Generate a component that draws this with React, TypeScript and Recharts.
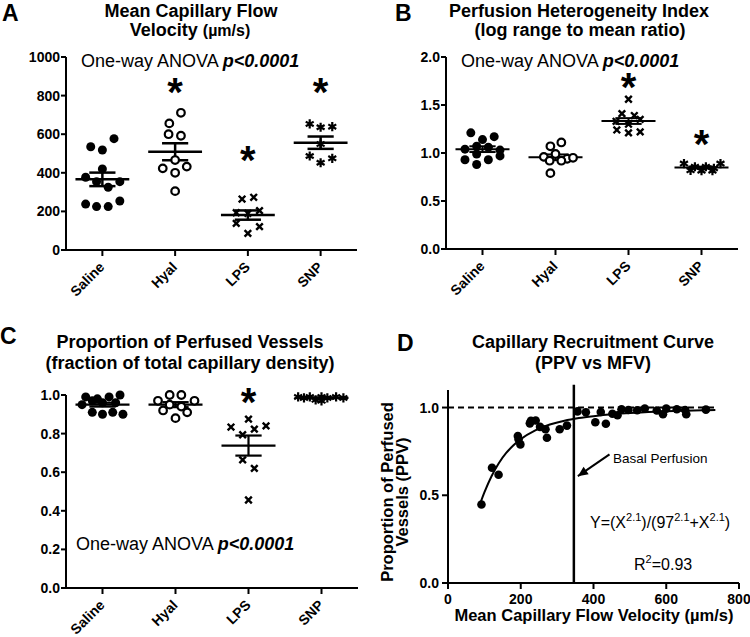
import React from "react";
import { ScatterChart, Scatter, XAxis, YAxis, ReferenceLine } from "recharts";

const FONT = "'Liberation Sans', Arial, Helvetica, sans-serif";

const categories = ["Saline", "Hyal", "LPS", "SNP"];
const catTicks = [0.5, 1.5, 2.5, 3.5];

// Panel A: Mean capillary flow velocity (µm/s)
const mfvTicks = [0, 200, 400, 600, 800, 1000];
const mfvSaline = [535, 518, 577, 377, 420, 354, 325, 354, 238, 225, 225, 254];
const mfvSalineJitter = [-0.16, 0, 0.16, -0.23, 0, -0.08, 0.08, 0.24, -0.23, -0.08, 0.08, 0.24];
const mfvHyal = [711, 656, 600, 592, 466, 423, 432, 400, 305];
const mfvHyalJitter = [0.08, -0.08, -0.09, 0.08, 0, -0.17, 0.16, 0, 0];
const mfvLps = [264, 273, 193, 190, 204, 138, 121, 86];
const mfvLpsJitter = [-0.08, 0.08, -0.16, 0, 0.16, -0.16, 0.16, 0];
const mfvSnp = [653, 636, 639, 549, 487, 452, 475];
const mfvSnpJitter = [-0.15, 0, 0.16, 0, -0.15, 0, 0.16];
const mfvMean = [366, 509, 181, 556];
const mfvSem = [35, 44, 24, 32];
const mfvSig = [null, 855, 503, 855];

// Panel B: Perfusion heterogeneity index
const phiTicks = [0, 0.5, 1.0, 1.5, 2.0];
const phiSaline = [1.21, 1.14, 1.17, 1.04, 1.07, 1.06, 1.03, 0.97, 0.93, 0.88, 0.93, 0.99];
const phiSalineJitter = [-0.16, 0, 0.16, -0.24, -0.08, 0.08, 0.24, 0.24, -0.24, -0.08, 0.08, -0.08];
const phiHyal = [1.07, 1.11, 0.96, 0.99, 0.94, 0.92, 0.92, 0.95, 0.79];
const phiHyalJitter = [-0.07, 0.08, -0.16, 0, 0.16, -0.08, 0.08, 0.24, -0.07];
const phiLps = [1.56, 1.41, 1.39, 1.33, 1.35, 1.24, 1.21, 1.22, 1.3];
const phiLpsJitter = [0, -0.09, 0.08, -0.17, 0.16, -0.16, 0, 0.16, 0];
const phiSnp = [0.89, 0.857, 0.857, 0.84, 0.89, 0.82, 0.815, 0.815];
const phiSnpJitter = [-0.24, -0.09, 0.06, 0.17, 0.26, -0.15, 0, 0.15];
const phiMean = [1.04, 0.955, 1.333, 0.848];
const phiSem = [0.03, 0.03, 0.03, 0.01];
const phiSig = [null, null, 1.76, 1.17];

// Panel C: Proportion of perfused vessels
const ppvTicks = [0, 0.2, 0.4, 0.6, 0.8, 1.0];
const ppvSaline = [0.99, 0.98, 0.99, 1.0, 0.97, 0.96, 0.96, 0.91, 0.9, 0.91, 0.95, 0.9];
const ppvSalineJitter = [-0.23, -0.07, 0.09, 0.24, -0.14, 0, 0.18, -0.14, 0, 0.14, -0.28, 0.28];
const ppvHyal = [0.97, 1.0, 1.0, 0.97, 0.92, 0.91, 0.88, 0.95, 0.94];
const ppvHyalJitter = [-0.24, -0.08, 0.08, 0.26, -0.17, 0.16, 0, -0.08, 0.08];
const ppvLps = [0.875, 0.834, 0.823, 0.84, 0.794, 0.664, 0.62, 0.456];
const ppvLpsJitter = [0, -0.24, 0.08, 0.24, -0.08, -0.08, 0.08, 0];
const ppvSnp = [0.99, 0.985, 0.99, 0.975, 0.99, 0.985, 0.97, 0.99, 0.985];
const ppvSnpJitter = [-0.32, -0.24, -0.16, -0.08, 0.0, 0.08, 0.0, 0.2, 0.3];
const ppvMean = [0.95, 0.95, 0.738, 0.985];
const ppvSem = [0.01, 0.013, 0.052, 0.003];
const ppvSig = [null, null, 1.0, null];

// Panel D: recruitment curve (PPV vs MFV)
const recMfv = [92, 121, 139, 192, 194, 199, 225, 228, 241, 253, 268, 272, 307, 327, 356, 379, 405, 420, 434, 452, 466, 477, 496, 520, 541, 574, 591, 600, 629, 652, 655, 709];
const recPpv = [0.447, 0.657, 0.617, 0.838, 0.82, 0.79, 0.91, 0.924, 0.926, 0.89, 0.876, 0.828, 0.876, 0.897, 0.978, 0.973, 0.916, 0.975, 0.908, 0.965, 0.956, 0.99, 0.986, 0.985, 0.994, 0.983, 0.962, 0.994, 0.99, 0.986, 0.962, 0.988];
const fitMfv = [90, 100, 120, 140, 160, 180, 200, 240, 280, 320, 360, 400, 450, 500, 550, 600, 650, 700, 735];
const fitPpv = [0.461, 0.516, 0.61, 0.684, 0.741, 0.785, 0.82, 0.87, 0.903, 0.925, 0.94, 0.951, 0.962, 0.969, 0.975, 0.979, 0.982, 0.984, 0.986];
const recXTicks = [0, 200, 400, 600, 800];
const recYTicks = [0, 0.5, 1.0];
const basalMfv = 346;
const arrowFrom = { x: 444, y: 0.733 };
const arrowTo = { x: 357, y: 0.609 };

type Pt = { x: number; y: number };
const toPoints = (group: number, values: number[], jitter: number[]): Pt[] =>
  values.map((v, i) => ({ x: group + 0.5 + jitter[i], y: v }));
const sigPoints = (sig: (number | null)[]): Pt[] =>
  sig.flatMap((v, i) => (v == null ? [] : [{ x: i + 0.5, y: v }]));

const FilledCircle = (p: any) => <circle cx={p.cx} cy={p.cy} r={4.5} fill="#000" />;
const OpenCircle = (p: any) => (
  <circle cx={p.cx} cy={p.cy} r={3.8} fill="#fff" stroke="#000" strokeWidth={2.2} />
);
const CrossMark = (p: any) => {
  const r = 3.3;
  return (
    <path
      d={`M${p.cx - r},${p.cy - r}L${p.cx + r},${p.cy + r}M${p.cx + r},${p.cy - r}L${p.cx - r},${p.cy + r}`}
      stroke="#000"
      strokeWidth={2.4}
    />
  );
};
const StarMark = (p: any) => {
  const r = 4.6;
  const dx = r * Math.cos(Math.PI / 6);
  const dy = r * Math.sin(Math.PI / 6);
  const { cx, cy } = p;
  return (
    <path
      d={`M${cx},${cy - r}L${cx},${cy + r}M${cx - dx},${cy - dy}L${cx + dx},${cy + dy}M${cx - dx},${cy + dy}L${cx + dx},${cy - dy}`}
      stroke="#000"
      strokeWidth={2.2}
    />
  );
};
const SigMark = (p: any) => (
  <text x={p.cx} y={p.cy} dy={21} textAnchor="middle" fontSize={40} fontWeight="bold" fontFamily={FONT} fill="#000">
    *
  </text>
);
const NoMark = () => <g />;
const ArrowHead = (p: any) => (
  <polygon
    points="0,0 10,-4.5 10,4.5"
    transform={`translate(${p.cx},${p.cy}) rotate(-34.4)`}
    fill="#000"
  />
);

const CatTick = (p: any) => {
  const label = categories[Math.floor(p.payload.value)];
  return (
    <text
      x={0}
      y={0}
      transform={`translate(${p.x + 3},${p.y + 10}) rotate(-45)`}
      textAnchor="end"
      fontSize={14}
      fontWeight="bold"
      fontFamily={FONT}
      fill="#000"
    >
      {label}
    </text>
  );
};

const axisLine = { stroke: "#000", strokeWidth: 2 };
const tickStyle = { fill: "#000", fontSize: 14, fontWeight: "bold", fontFamily: FONT };

const meanSem = (prefix: string, means: number[], sems: number[], halfW: number, capW: number, sw: number) =>
  means.flatMap((m, i) => {
    const c = i + 0.5;
    const s = sems[i];
    return [
      <ReferenceLine key={`${prefix}m${i}`} segment={[{ x: c - halfW, y: m }, { x: c + halfW, y: m }]} stroke="#000" strokeWidth={sw} />,
      <ReferenceLine key={`${prefix}u${i}`} segment={[{ x: c - capW, y: m + s }, { x: c + capW, y: m + s }]} stroke="#000" strokeWidth={sw} />,
      <ReferenceLine key={`${prefix}l${i}`} segment={[{ x: c - capW, y: m - s }, { x: c + capW, y: m - s }]} stroke="#000" strokeWidth={sw} />,
      <ReferenceLine key={`${prefix}v${i}`} segment={[{ x: c, y: m - s }, { x: c, y: m + s }]} stroke="#000" strokeWidth={sw} />,
    ];
  });

const Anova = ({ x, y }: { x: number; y: number }) => (
  <text x={x} y={y} fontSize={18} fontFamily={FONT} fill="#000">
    <tspan>One-way ANOVA </tspan>
    <tspan fontWeight="bold" fontStyle="italic">p&lt;0.0001</tspan>
  </text>
);

const T = (props: any) => <text fontFamily={FONT} fill="#000" {...props} />;

const fmt1 = (v: number) => v.toFixed(1);

export default function App() {
  const groupChart = (
    key: string,
    left: number,
    top: number,
    w: number,
    h: number,
    margin: any,
    yW: number,
    xH: number,
    domain: number[],
    ticks: number[],
    tickFmt: ((v: number) => string) | undefined,
    series: { data: Pt[]; shape: any }[],
    sig: Pt[],
    lines: any[],
    extra: any
  ) => (
    <div key={key} style={{ position: "absolute", left, top, width: w, height: h }}>
      <ScatterChart width={w} height={h} margin={margin}>
        <XAxis
          type="number"
          dataKey="x"
          domain={[0, 4]}
          ticks={catTicks}
          interval={0}
          tick={<CatTick />}
          axisLine={axisLine}
          tickLine={axisLine}
          tickSize={6}
          tickMargin={2}
          height={xH}
        />
        <YAxis
          type="number"
          dataKey="y"
          domain={domain}
          ticks={ticks}
          interval={0}
          tickFormatter={tickFmt}
          tick={tickStyle}
          axisLine={axisLine}
          tickLine={axisLine}
          tickSize={5}
          tickMargin={1}
          width={yW}
        />
        {lines}
        {series.map((s, i) => (
          <Scatter key={i} data={s.data} shape={s.shape} isAnimationActive={false} />
        ))}
        <Scatter data={sig} shape={SigMark} isAnimationActive={false} />
        {extra}
      </ScatterChart>
    </div>
  );

  return (
    <div style={{ position: "absolute", left: 0, top: 0, width: 750, height: 637, background: "#fff", overflow: "hidden" }}>
      {groupChart(
        "A",
        0,
        0,
        375,
        320,
        { top: 57, right: 18, bottom: 10, left: 6 },
        60,
        60,
        [0, 1000],
        mfvTicks,
        undefined,
        [
          { data: toPoints(0, mfvSaline, mfvSalineJitter), shape: FilledCircle },
          { data: toPoints(1, mfvHyal, mfvHyalJitter), shape: OpenCircle },
          { data: toPoints(2, mfvLps, mfvLpsJitter), shape: CrossMark },
          { data: toPoints(3, mfvSnp, mfvSnpJitter), shape: StarMark },
        ],
        sigPoints(mfvSig),
        meanSem("a", mfvMean, mfvSem, 0.37, 0.18, 2.5),
        <g>
          <T x={2} y={21} fontSize={23} fontWeight="bold">A</T>
          <T x={191} y={17} fontSize={18} fontWeight="bold" textAnchor="middle">Mean Capillary Flow</T>
          <T x={190} y={36} fontSize={18} fontWeight="bold" textAnchor="middle">
            Velocity <tspan fontSize={16}>(µm/s)</tspan>
          </T>
          <Anova x={81} y={67} />
        </g>
      )}
      {groupChart(
        "B",
        375,
        0,
        375,
        320,
        { top: 57, right: 12, bottom: 10, left: 11 },
        60,
        61,
        [0, 2],
        phiTicks,
        fmt1,
        [
          { data: toPoints(0, phiSaline, phiSalineJitter), shape: FilledCircle },
          { data: toPoints(1, phiHyal, phiHyalJitter), shape: OpenCircle },
          { data: toPoints(2, phiLps, phiLpsJitter), shape: CrossMark },
          { data: toPoints(3, phiSnp, phiSnpJitter), shape: StarMark },
        ],
        sigPoints(phiSig),
        meanSem("b", phiMean, phiSem, 0.37, 0.18, 2),
        <g>
          <T x={20} y={21} fontSize={23} fontWeight="bold">B</T>
          <T x={204} y={17} fontSize={18} fontWeight="bold" textAnchor="middle">Perfusion Heterogeneity Index</T>
          <T x={205} y={36} fontSize={18} fontWeight="bold" textAnchor="middle">(log range to mean ratio)</T>
          <Anova x={86} y={67} />
        </g>
      )}
      {groupChart(
        "C",
        0,
        320,
        375,
        317,
        { top: 75, right: 17, bottom: 9, left: 6 },
        60,
        40,
        [0, 1],
        ppvTicks,
        fmt1,
        [
          { data: toPoints(0, ppvSaline, ppvSalineJitter), shape: FilledCircle },
          { data: toPoints(1, ppvHyal, ppvHyalJitter), shape: OpenCircle },
          { data: toPoints(2, ppvLps, ppvLpsJitter), shape: CrossMark },
          { data: toPoints(3, ppvSnp, ppvSnpJitter), shape: StarMark },
        ],
        sigPoints(ppvSig),
        meanSem("c", ppvMean, ppvSem, 0.37, 0.18, 2.2),
        <g>
          <T x={0} y={24} fontSize={23} fontWeight="bold">C</T>
          <T x={190} y={28} fontSize={18} fontWeight="bold" textAnchor="middle">Proportion of Perfused Vessels</T>
          <T x={190} y={49} fontSize={18} fontWeight="bold" textAnchor="middle">(fraction of total capillary density)</T>
          <Anova x={76} y={230} />
        </g>
      )}
      <div style={{ position: "absolute", left: 375, top: 320, width: 375, height: 317 }}>
        <ScatterChart width={375} height={317} margin={{ top: 70, right: 11, bottom: 10, left: 10 }}>
          <XAxis
            type="number"
            dataKey="x"
            domain={[0, 800]}
            ticks={recXTicks}
            interval={0}
            tick={tickStyle}
            axisLine={axisLine}
            tickLine={axisLine}
            tickSize={6}
            tickMargin={5}
            height={44}
          />
          <YAxis
            type="number"
            dataKey="y"
            domain={[0, 1.1]}
            ticks={recYTicks}
            interval={0}
            tickFormatter={fmt1}
            tick={tickStyle}
            axisLine={axisLine}
            tickLine={axisLine}
            tickSize={6}
            tickMargin={3}
            width={63}
          />
          <ReferenceLine segment={[{ x: 0, y: 1 }, { x: 735, y: 1 }]} stroke="#000" strokeWidth={2} strokeDasharray="6 4" />
          <ReferenceLine
            segment={[{ x: basalMfv, y: 0 }, { x: basalMfv, y: 1.13 }]}
            stroke="#000"
            strokeWidth={2.5}
            ifOverflow="visible"
          />
          <ReferenceLine segment={[arrowFrom, arrowTo]} stroke="#000" strokeWidth={2} />
          <Scatter data={[arrowTo]} shape={ArrowHead} isAnimationActive={false} />
          <Scatter
            data={fitMfv.map((x, i) => ({ x, y: fitPpv[i] }))}
            shape={NoMark}
            line={{ stroke: "#000", strokeWidth: 2 }}
            lineJointType="monotoneX"
            isAnimationActive={false}
          />
          <Scatter
            data={recMfv.map((x, i) => ({ x, y: recPpv[i] }))}
            shape={(p: any) => <circle cx={p.cx} cy={p.cy} r={4.3} fill="#000" />}
            isAnimationActive={false}
          />
          <g>
            <T x={22} y={31} fontSize={23} fontWeight="bold">D</T>
            <T x={218} y={28} fontSize={18} fontWeight="bold" textAnchor="middle">Capillary Recruitment Curve</T>
            <T x={218} y={49} fontSize={18} fontWeight="bold" textAnchor="middle">(PPV vs MFV)</T>
            <T x={17.5} y={172} fontSize={16.5} fontWeight="bold" textAnchor="middle" transform="rotate(-90, 17.5, 172)">
              Proportion of Perfused
            </T>
            <T x={32.5} y={172} fontSize={16.5} fontWeight="bold" textAnchor="middle" transform="rotate(-90, 32.5, 172)">
              Vessels (PPV)
            </T>
            <T x={219} y={301} fontSize={16.5} fontWeight="bold" textAnchor="middle">
              Mean Capillary Flow Velocity (µm/s)
            </T>
            <T x={238} y={143} fontSize={13.5}>Basal Perfusion</T>
            <T x={215} y={208} fontSize={16}>
              Y=(X<tspan fontSize={11} dy={-7}>2.1</tspan>
              <tspan dy={7}>)/(97</tspan>
              <tspan fontSize={11} dy={-7}>2.1</tspan>
              <tspan dy={7}>+X</tspan>
              <tspan fontSize={11} dy={-7}>2.1</tspan>
              <tspan dy={7}>)</tspan>
            </T>
            <T x={259} y={250} fontSize={16}>
              R<tspan fontSize={11} dy={-7}>2</tspan>
              <tspan dy={7}>=0.93</tspan>
            </T>
          </g>
        </ScatterChart>
      </div>
    </div>
  );
}
